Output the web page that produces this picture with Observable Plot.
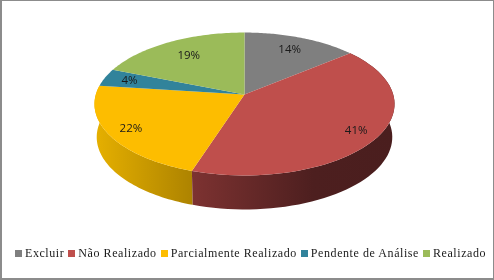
<!DOCTYPE html>
<html>
<head>
<meta charset="utf-8">
<script src="https://cdn.jsdelivr.net/npm/d3@7"></script>
<script src="https://cdn.jsdelivr.net/npm/@observablehq/plot@0.6"></script>
<style>
html,body{margin:0;padding:0;background:#fff}
#frame{position:relative;width:494px;height:280px;box-sizing:border-box;overflow:hidden;background:#fff;filter:blur(0.3px)}
#frame svg{position:absolute;left:0;top:0;background:transparent}
#edge{position:absolute;inset:0;box-sizing:border-box;border:1px solid #8c8c8c;border-left-width:2px;border-bottom-width:2px;pointer-events:none}
#legend{position:absolute;left:15px;top:245px;display:flex;align-items:center;font:12px "Liberation Serif",serif;letter-spacing:.57px;color:#1a1a1a;white-space:nowrap;height:16px}
#legend span.k{display:inline-block;width:7px;height:7px;margin-right:3px}
#legend span.i{display:flex;align-items:center;margin-right:4px}
</style>
</head>
<body>
<div id="frame"><div id="legend"></div><div id="edge"></div></div>
<script>
const categories = ["Excluir","Não Realizado","Parcialmente Realizado","Pendente de Análise","Realizado"];
const percents = [14,41,22,4,19];
const colors = ["#7f7f7f","#bf4f4c","#fdbd00","#31839b","#9bbb59"];
const labelRadius = [.78,.85,.85,.82,.72];

// Tilted-disc model of the 3-D pie
const cx=244, cy=94, rx=148.7, ry=70.2, k=-0.133, depth=33, lowerX=.985, lowerY=1.012;
const proj=(deg,r=1)=>{const t=deg*Math.PI/180,u=r*Math.sin(t),v=-r*Math.cos(t),d=1+k*v;return [cx+rx*u/d,cy+ry*v/d];};
const projLow=(deg)=>{const t=deg*Math.PI/180,u=Math.sin(t),v=-Math.cos(t),d=1+k*v;return [cx+rx*lowerX*u/d,cy+depth+ry*lowerY*v/d];};

const total=d3.sum(percents);
let acc=0;
const slices=categories.map((c,i)=>{const a0=acc/total*360;acc+=percents[i];return {c,i,a0,a1:acc/total*360};});
const arc=(s)=>d3.range(0,61).map(j=>s.a0+(s.a1-s.a0)*j/60);

const tops=slices.flatMap(s=>[{c:s.c,p:[cx,cy]},...arc(s).map(a=>({c:s.c,p:proj(a)}))]);
const sideOf=(name)=>{const s=slices.find(x=>x.c===name);
  return [...arc(s).map(a=>({p:proj(a)})),...arc(s).reverse().map(a=>({p:projLow(a)}))];};
const labels=slices.map(s=>{const p=proj((s.a0+s.a1)/2,labelRadius[s.i]);return {t:percents[s.i]+"%",p};});

const defs=()=>{const d=d3.create("svg:defs");
  const g=(id,stops)=>{const l=d.append("linearGradient").attr("id",id);
    stops.forEach(([o,c])=>l.append("stop").attr("offset",o).attr("stop-color",c));};
  g("sideRed",[[0,"#7d3231"],[.6,"#4d1f1f"],[1,"#4a1e1e"]]);
  g("sideYellow",[[0,"#e6b000"],[1,"#ad8300"]]);
  return d.node();};

const X=d=>d.p[0], Y=d=>d.p[1];
const chart=Plot.plot({
  width:494,height:240,margin:0,
  x:{domain:[0,494],range:[0,494],axis:null},
  y:{domain:[0,240],range:[0,240],axis:null},
  color:{domain:categories,range:colors},
  style:{background:"transparent"},
  marks:[
    defs,
    Plot.line(sideOf("Parcialmente Realizado"),{x:X,y:Y,fill:"url(#sideYellow)",stroke:"none",curve:"linear"}),
    Plot.line(sideOf("Não Realizado"),{x:X,y:Y,fill:"url(#sideRed)",stroke:"none",curve:"linear"}),
    Plot.line(tops,{x:X,y:Y,z:"c",fill:"c",stroke:"none",curve:"linear"}),
    Plot.text(labels,{x:X,y:Y,text:"t",fontSize:11.5,fontFamily:"Open Sans",fill:"#1a1a1a"})
  ]
});
document.getElementById("frame").prepend(chart);

const legend=d3.select("#legend");
categories.forEach((c,i)=>{
  const it=legend.append("span").attr("class","i");
  it.append("span").attr("class","k").style("background",colors[i]);
  it.append("span").text(c);
});
</script>
</body>
</html>
